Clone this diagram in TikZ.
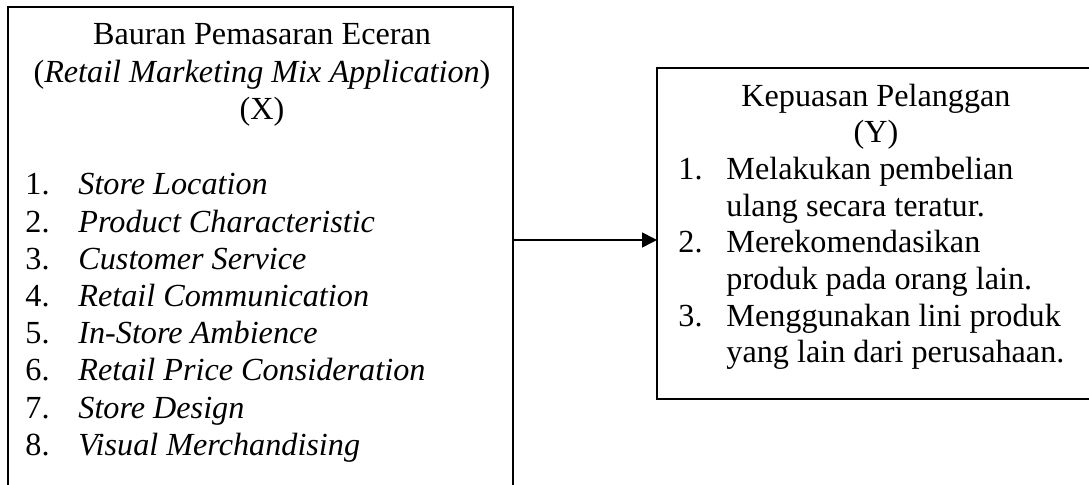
\documentclass[tikz,border=0pt]{standalone}
\usepackage{fontspec}
\setmainfont{Liberation Serif}
\usetikzlibrary{arrows.meta}
\begin{document}
\begin{tikzpicture}[x=0.5pt,y=-0.5pt,
  box/.style={rectangle,inner sep=0pt,outer sep=0pt,anchor=north west},
  edge/.style={line width=0.8pt},
  txt/.style={anchor=base west,inner sep=0pt,font=\fontsize{16.1}{19}\selectfont},
  ctr/.style={anchor=base,inner sep=0pt,font=\fontsize{16.1}{19}\selectfont},
  arr/.style={line width=0.8pt,-{Triangle[length=7.5pt,width=7.5pt]}}]
\useasboundingbox (0,0) rectangle (1089,485);
\node[box,minimum width=252.5pt,minimum height=239pt] (X) at (8,7) {};
\node[box,minimum width=216pt,minimum height=165.5pt] (Y) at (657,68) {};
\draw[edge] (X.south west) -- (X.north west) -- (X.north east) -- (X.south east);
\draw[edge] (Y.north east) -- (Y.north west) -- (Y.south west) -- (Y.south east);
\coordinate (a) at (600,240);
\draw[arr] (X.east |- a) -- (Y.west |- a);
% left header
\node[ctr] (x1) at (262,45) {Bauran Pemasaran Eceran};
\node[ctr] (x2) at (262,83) {(\textit{Retail Marketing Mix Application})};
\node[ctr] (x3) at (262,120) {(X)};
% left list
\foreach \n/\t [count=\i from 0] in {1/Store Location,2/Product Characteristic,3/Customer Service,4/Retail Communication,5/In-Store Ambience,6/Retail Price Consideration,7/Store Design,8/Visual Merchandising}{
  \node[txt] (n\n) at (25,195+37.2*\i) {\n.};
  \node[txt] (l\n) at (78,195+37.2*\i) {\textit{\t}};
}
% right header
\node[ctr] (y1) at (876,107) {Kepuasan Pelanggan};
\node[ctr] (y2) at (876,143) {(Y)};
% right list
\node[txt] (r1n) at (678,180) {1.};
\node[txt] (r1a) at (726,180) {Melakukan pembelian};
\node[txt] (r1b) at (726,217) {ulang secara teratur.};
\node[txt] (r2n) at (678,253) {2.};
\node[txt] (r2a) at (726,253) {Merekomendasikan};
\node[txt] (r2b) at (726,290) {produk pada orang lain.};
\node[txt] (r3n) at (678,327) {3.};
\node[txt] (r3a) at (726,327) {Menggunakan lini produk};
\node[txt] (r3b) at (726,363) {yang lain dari perusahaan.};
\end{tikzpicture}
\end{document}
